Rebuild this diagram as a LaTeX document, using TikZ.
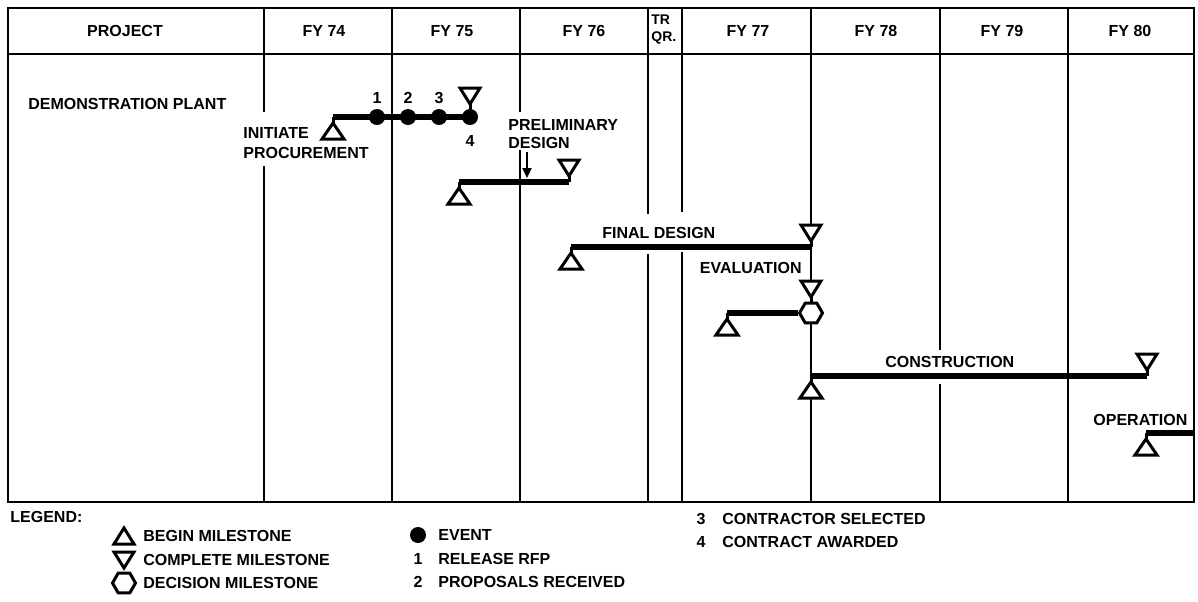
\documentclass[tikz,border=0pt]{standalone}
\usepackage{fontspec}
\setmainfont{Liberation Sans}
\usetikzlibrary{shapes.geometric,arrows.meta}
\begin{document}
\begin{tikzpicture}[x=0.5pt,y=-0.5pt,
  every node/.style={font=\bfseries\fontsize{8}{9.6}\selectfont, inner sep=0pt},
  frame/.style={line width=1.2pt},
  divider/.style={line width=0.9pt},
  bar/.style={line width=3pt},
  ms/.style={line width=1.5pt, fill=white, line join=miter},
  event/.style={circle, fill=black, minimum size=8pt},
  hexms/.style={regular polygon, regular polygon sides=6, draw, line width=1.5pt, fill=white, minimum size=11.5pt},
  arr/.style={line width=1.1pt, -{Triangle[length=5pt,width=4.5pt]}},
  beginms/.pic={\draw[ms] (0,0) -- (0,6); \draw[ms] (0,6) -- (11,22) -- (-11,22) -- cycle;},
  endms/.pic={\draw[ms] (0,0) -- (0,-6); \draw[ms] (0,-6) -- (10,-22) -- (-10,-22) -- cycle;},
  legbegin/.pic={\draw[ms] (0,-8) -- (10,8) -- (-10,8) -- cycle;},
  legend/.pic={\draw[ms] (0,8) -- (10,-8) -- (-10,-8) -- cycle;}
]
\useasboundingbox (0,0) rectangle (1198,601);

% ---- frame and grid ----
\draw[frame] (8,8) rectangle (1194,502);
\draw[frame] (8,54) -- (1194,54);
\foreach \gx in {264,392,520,648,682,811,940,1068}
  \draw[divider] (\gx,8) -- (\gx,54);
\draw[divider] (264,54) -- (264,112) (264,166) -- (264,502);
\draw[divider] (392,54) -- (392,502);
\draw[divider] (520,54) -- (520,112) (520,150) -- (520,502);
\draw[divider] (648,54) -- (648,214) (648,254) -- (648,502);
\draw[divider] (682,54) -- (682,212) (682,252) -- (682,502);
\draw[divider] (811,54) -- (811,502);
\draw[divider] (940,54) -- (940,350) (940,384) -- (940,502);
\draw[divider] (1068,54) -- (1068,502);

% ---- header ----
\node (hproj) at (125,31) {PROJECT};
\node (h74) at (324,31) {FY 74};
\node (h75) at (452,31) {FY 75};
\node (h76) at (584,31) {FY 76};
\node[anchor=west, font=\bfseries\fontsize{7}{8}\selectfont] (htr) at (651,20) {TR};
\node[anchor=west, font=\bfseries\fontsize{7}{8}\selectfont] (hqr) at (651,38) {QR.};
\node (h77) at (748,31) {FY 77};
\node (h78) at (876,31) {FY 78};
\node (h79) at (1002,31) {FY 79};
\node (h80) at (1130,31) {FY 80};

% ---- project ----
\node[anchor=west] (dp) at (28,104) {DEMONSTRATION PLANT};

% procurement
\coordinate (pr0) at (333,117);
\node[event] (e1) at (377,117) {};
\node[event] (e2) at (408,117) {};
\node[event] (e3) at (439,117) {};
\node[event] (e4) at (470,117) {};
\draw[bar] (pr0) -- (e4.center);
\pic at (pr0) {beginms};
\pic at (470,110) {endms};
\node (l1) at (377,98) {1};
\node (l2) at (408,98) {2};
\node (l3) at (439,98) {3};
\node (l4) at (470,141) {4};
\node[anchor=west] (ini) at (243,133) {INITIATE};
\node[anchor=west] (proc) at (243,153) {PROCUREMENT};

% preliminary design
\node[anchor=west] (pre) at (508,125) {PRELIMINARY};
\node[anchor=west] (pdes) at (508,143) {DESIGN};
\coordinate (pa0) at (527,152);
\coordinate (pa1) at (527,178);
\draw[arr] (pa0) -- (pa1);
\coordinate (pd0) at (459,182);
\coordinate (pd1) at (569,182);
\draw[bar] (pd0) -- (pd1);
\pic at (pd0) {beginms};
\pic at (pd1) {endms};

% final design
\node[anchor=west] (fdl) at (602,233) {FINAL DESIGN};
\coordinate (fd0) at (571,247);
\coordinate (fd1) at (811,247);
\draw[bar] (fd0) -- (fd1);
\pic at (fd0) {beginms};
\pic at (fd1) {endms};

% evaluation
\node[anchor=east] (evl) at (802,268) {EVALUATION};
\node[hexms] (hx) at (811,313) {};
\coordinate (ev0) at (727,313);
\draw[bar] (ev0) -- (hx.west);
\pic at (ev0) {beginms};
\pic at (811,303) {endms};

% construction
\node[anchor=west] (cnl) at (885,362) {CONSTRUCTION};
\coordinate (cn0) at (811,376);
\coordinate (cn1) at (1147,376);
\draw[bar] (cn0) -- (cn1);
\pic at (cn0) {beginms};
\pic at (cn1) {endms};

% operation
\node[anchor=west] (opl) at (1093,420) {OPERATION};
\coordinate (op0) at (1146,433);
\coordinate (op1) at (1194,433);
\draw[bar] (op0) -- (op1);
\pic at (op0) {beginms};

% ---- legend ----
\node[anchor=west] (lg) at (10,517) {LEGEND:};
\pic at (124,536) {legbegin};
\node[anchor=west] (lgb) at (143,536) {BEGIN MILESTONE};
\pic at (124,560) {legend};
\node[anchor=west] (lgc) at (143,560) {COMPLETE MILESTONE};
\node[hexms] (lgh) at (124,583) {};
\node[anchor=west] (lgd) at (143,583) {DECISION MILESTONE};
\node[event] (lge) at (418,535) {};
\node[anchor=west] (lget) at (438,535) {EVENT};
\node (lg1) at (418,559) {1};
\node[anchor=west] (lg1t) at (438,559) {RELEASE RFP};
\node (lg2) at (418,582) {2};
\node[anchor=west] (lg2t) at (438,582) {PROPOSALS RECEIVED};
\node (lg3) at (701,519) {3};
\node[anchor=west] (lg3t) at (722,519) {CONTRACTOR SELECTED};
\node (lg4) at (701,542) {4};
\node[anchor=west] (lg4t) at (722,542) {CONTRACT AWARDED};
\end{tikzpicture}
\end{document}
